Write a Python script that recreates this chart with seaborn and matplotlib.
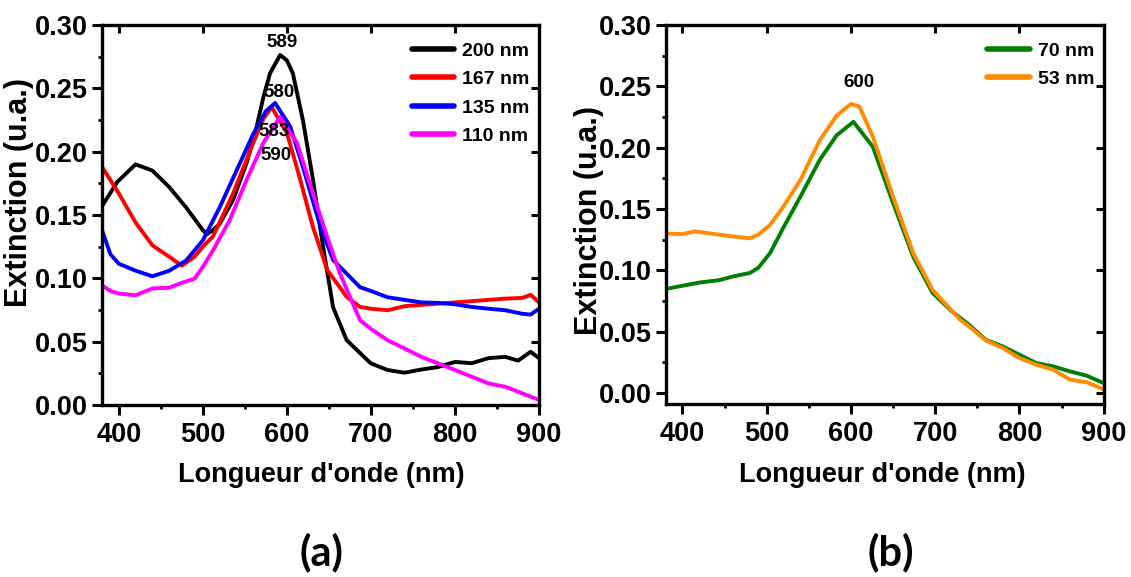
import numpy as np
import pandas as pd
import matplotlib
matplotlib.use("Agg")
import matplotlib.pyplot as plt
import seaborn as sns

# panel (a) spectra
wl_200 = [380, 398, 420, 440, 460, 480, 500, 505, 512, 520, 536, 552, 564, 572, 580, 592, 600, 607,
          619, 631, 643, 655, 671, 687, 700, 720, 740, 760, 780, 800, 820, 840, 860, 875, 890, 900]
ext_200 = [0.157, 0.176, 0.190, 0.185, 0.172, 0.156, 0.138, 0.135, 0.138, 0.143, 0.162, 0.191, 0.2197,
           0.243, 0.262, 0.2763, 0.272, 0.262, 0.225, 0.178, 0.125, 0.077, 0.0513, 0.041, 0.0328,
           0.0276, 0.0255, 0.028, 0.030, 0.034, 0.033, 0.037, 0.038, 0.035, 0.042, 0.037]

wl_167 = [380, 400, 420, 440, 460, 475, 490, 500, 512, 536, 560, 572, 582, 600, 615, 631, 648, 671,
          687, 700, 720, 740, 760, 780, 800, 820, 840, 860, 880, 890, 900]
ext_167 = [0.188, 0.167, 0.144, 0.126, 0.117, 0.110, 0.117, 0.125, 0.133, 0.167, 0.207, 0.226, 0.235,
           0.2147, 0.180, 0.1405, 0.1066, 0.0855, 0.0774, 0.076, 0.0748, 0.078, 0.079, 0.080, 0.081,
           0.082, 0.083, 0.084, 0.0845, 0.087, 0.081]

wl_135 = [380, 390, 400, 420, 440, 460, 480, 500, 520, 540, 560, 575, 586, 604, 619, 640, 655, 687,
          700, 720, 740, 760, 780, 800, 820, 840, 860, 880, 890, 900]
ext_135 = [0.138, 0.119, 0.1115, 0.106, 0.1016, 0.106, 0.114, 0.130, 0.156, 0.185, 0.214, 0.232, 0.2384,
           0.2197, 0.188, 0.1405, 0.1145, 0.093, 0.090, 0.085, 0.083, 0.081, 0.0806, 0.0795, 0.0774,
           0.076, 0.0748, 0.072, 0.0714, 0.076]

wl_110 = [380, 390, 400, 420, 440, 460, 473, 490, 500, 512, 532, 552, 572, 592, 612, 631, 648, 663,
          687, 700, 720, 740, 760, 780, 800, 820, 840, 860, 880, 900]
ext_110 = [0.0945, 0.090, 0.088, 0.0866, 0.092, 0.0926, 0.096, 0.0997, 0.109, 0.122, 0.146, 0.1776,
           0.207, 0.2274, 0.207, 0.167, 0.1326, 0.104, 0.067, 0.060, 0.051, 0.0446, 0.038, 0.0328,
           0.0276, 0.0223, 0.017, 0.0144, 0.0092, 0.004]

# panel (b) spectra
wl_70 = [380, 400, 420, 444, 460, 480, 490, 504, 520, 540, 563, 583, 603, 626, 650, 674, 697, 720,
         740, 760, 780, 800, 820, 840, 860, 880, 900]
ext_70 = [0.0847, 0.0874, 0.090, 0.092, 0.095, 0.0978, 0.102, 0.114, 0.135, 0.160, 0.190, 0.210, 0.221,
          0.2007, 0.155, 0.111, 0.0815, 0.0665, 0.0557, 0.0434, 0.038, 0.0312, 0.0244, 0.0217,
          0.0176, 0.0141, 0.008]

wl_53 = [380, 400, 415, 444, 460, 480, 490, 504, 520, 540, 563, 583, 600, 610, 626, 650, 674, 697,
         730, 740, 760, 780, 800, 820, 840, 860, 880, 900]
ext_53 = [0.130, 0.1295, 0.1317, 0.129, 0.1276, 0.126, 0.129, 0.137, 0.152, 0.1736, 0.206, 0.226,
          0.2356, 0.2335, 0.209, 0.160, 0.114, 0.084, 0.0595, 0.0543, 0.0429, 0.0367, 0.0285,
          0.0231, 0.019, 0.0109, 0.0087, 0.003]

labels_a = ["200 nm", "167 nm", "135 nm", "110 nm"]
colors_a = ["black", "red", "blue", "magenta"]
labels_b = ["70 nm", "53 nm"]
colors_b = ["green", "darkorange"]

# peak labels: (text, wavelength, extinction)
peaks_a = [("589", 594, 0.286), ("580", 591, 0.2466), ("583", 585, 0.2163), ("590", 587, 0.197)]
peaks_b = [("600", 609, 0.253)]

xticks = [400, 500, 600, 700, 800, 900]
yticks = [0.00, 0.05, 0.10, 0.15, 0.20, 0.25, 0.30]


def long_df(wls, exts, labels):
    parts = []
    for w, e, lab in zip(wls, exts, labels):
        parts.append(pd.DataFrame({"wl": w, "ext": e, "taille": lab}))
    return pd.concat(parts, ignore_index=True)


df_a = long_df([wl_200, wl_167, wl_135, wl_110], [ext_200, ext_167, ext_135, ext_110], labels_a)
df_b = long_df([wl_70, wl_53], [ext_70, ext_53], labels_b)

sns.set_theme(style="ticks")
plt.rcParams["font.family"] = ["Liberation Sans", "DejaVu Sans"]
plt.rcParams["font.weight"] = "bold"
plt.rcParams["text.color"] = "black"
plt.rcParams["axes.labelcolor"] = "black"
plt.rcParams["xtick.color"] = "black"
plt.rcParams["ytick.color"] = "black"

fig = plt.figure(figsize=(11.31, 5.77), dpi=100)
ax1 = fig.add_axes([0.0902, 0.2981, 0.3864, 0.6586])
ax2 = fig.add_axes([0.5885, 0.2998, 0.3873, 0.657])


def style_axis(ax, ylo, ylab_xy, xlab_xy):
    ax.set_xlim(380, 900)
    ax.set_ylim(ylo, 0.30)
    ax.set_xticks(xticks)
    ax.set_yticks(yticks)
    ax.set_xticks([450, 550, 650, 750, 850], minor=True)
    ax.set_yticks([0.025, 0.075, 0.125, 0.175, 0.225, 0.275], minor=True)
    ax.set_xticklabels([str(t) for t in xticks], fontsize=19.5, fontweight="bold")
    ax.set_yticklabels(["%.2f" % t for t in yticks], fontsize=19.5, fontweight="bold")
    ax.tick_params(axis="both", which="major", direction="out", length=7, width=2.2, color="black")
    ax.tick_params(axis="x", which="major", pad=5)
    ax.tick_params(axis="y", which="major", pad=3)
    ax.tick_params(axis="both", which="minor", direction="out", length=3, width=2, color="black")
    # inner ticks on top and right
    sec_x = ax.secondary_xaxis("top")
    sec_x.set_xticks(xticks)
    sec_x.set_xticklabels([])
    sec_x.tick_params(direction="in", length=6, width=2.2)
    sec_y = ax.secondary_yaxis("right")
    sec_y.set_yticks(yticks)
    sec_y.set_yticklabels([])
    sec_y.tick_params(direction="in", length=6, width=2.2)
    for s in ["top", "right", "bottom", "left"]:
        ax.spines[s].set_linewidth(2.4)
        ax.spines[s].set_color("black")
    sec_x.spines["top"].set_linewidth(0)
    sec_y.spines["right"].set_linewidth(0)
    ax.set_xlabel("Longueur d'onde (nm)", fontsize=19.5, fontweight="bold")
    ax.set_ylabel("Extinction (u.a.)", fontsize=22, fontweight="bold")
    ax.yaxis.set_label_coords(*ylab_xy)
    ax.xaxis.set_label_coords(*xlab_xy)


sns.lineplot(data=df_a, x="wl", y="ext", hue="taille", hue_order=labels_a, palette=colors_a,
             linewidth=2.8, ax=ax1, sort=False, estimator=None)
sns.lineplot(data=df_b, x="wl", y="ext", hue="taille", hue_order=labels_b, palette=colors_b,
             linewidth=2.8, ax=ax2, sort=False, estimator=None)

style_axis(ax1, 0.0, (-0.156, 0.56), (0.501, -0.15))
style_axis(ax2, -0.009, (-0.141, 0.485), (0.494, -0.153))

for ax, peaks in [(ax1, peaks_a), (ax2, peaks_b)]:
    for txt, x, y in peaks:
        ax.text(x, y, txt, ha="center", va="center", fontsize=13.5, fontweight="bold")
    leg = ax.legend(loc="upper right", bbox_to_anchor=(1.005, 0.985), frameon=False,
                    handlelength=2.2, handletextpad=0.4, labelspacing=0.55, borderaxespad=0.2,
                    prop={"size": 14, "weight": "bold"})
    for line in leg.get_lines():
        line.set_linewidth(4)

fig.text(321 / 1131, 1 - 552 / 577, "(a)", ha="center", va="center", fontsize=30,
         fontweight="bold", family=["Lato", "DejaVu Sans"])
fig.text(891 / 1131, 1 - 552 / 577, "(b)", ha="center", va="center", fontsize=30,
         fontweight="bold", family=["Lato", "DejaVu Sans"])

fig.savefig("out.png", dpi=100)
